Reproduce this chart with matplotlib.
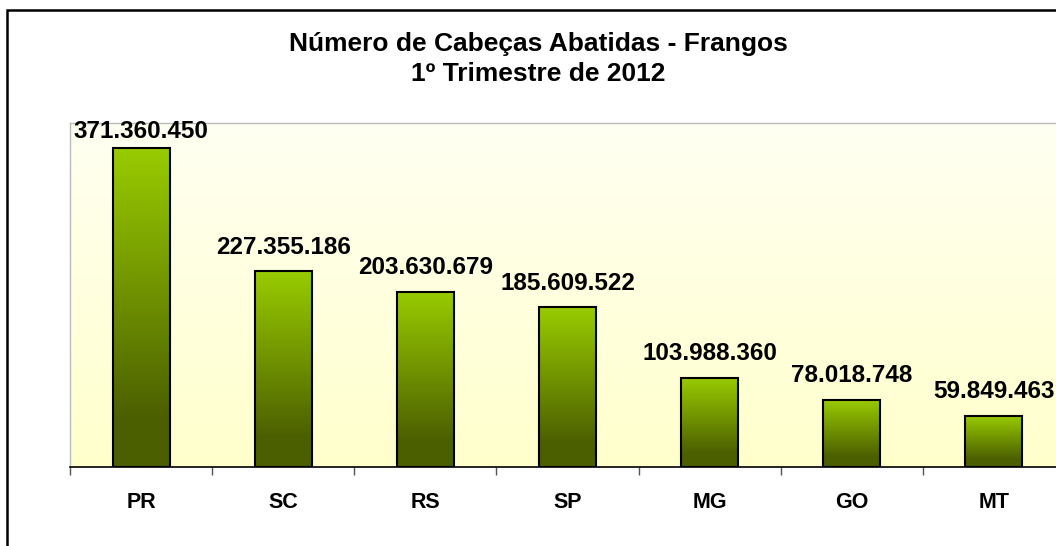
import numpy as np
import matplotlib
matplotlib.use("Agg")
import matplotlib.pyplot as plt
from matplotlib.colors import LinearSegmentedColormap
from matplotlib.patches import Rectangle

categories = ["PR", "SC", "RS", "SP", "MG", "GO", "MT"]
values = [371360450, 227355186, 203630679, 185609522, 103988360, 78018748, 59849463]
value_labels = ["371.360.450", "227.355.186", "203.630.679", "185.609.522",
                "103.988.360", "78.018.748", "59.849.463"]
title = "Número de Cabeças Abatidas - Frangos\n1º Trimestre de 2012"

plt.rcParams['font.family'] = ['Liberation Sans', 'DejaVu Sans']

W, H = 1056, 546
fig = plt.figure(figsize=(W / 100, H / 100), dpi=100)
fig.patch.set_facecolor("white")

# outer frame
fig.patches.append(Rectangle((7 / W, -0.2), 1.5, (H - 10) / H + 0.2,
                             transform=fig.transFigure, fill=False,
                             edgecolor="black", lw=1.8))

ax = fig.add_axes([70 / W, (H - 467) / H, 995 / W, 344 / H])

# background gradient
bg = LinearSegmentedColormap.from_list("bg", ["#FFFFCC", "#FFFFF2"])
ax.imshow(np.linspace(0, 1, 256).reshape(-1, 1), cmap=bg, origin="lower",
          aspect="auto", extent=[0, 1, 0, 1], transform=ax.transAxes, zorder=0)

x = np.arange(len(categories))
bars = ax.bar(x, values, width=0.4, facecolor="none", edgecolor="black",
              linewidth=1.5, zorder=3)

barcmap = LinearSegmentedColormap.from_list(
    "bar", [(0.0, "#4C5F00"), (0.15, "#4C5F00"), (1.0, "#99CC00")])
grad = np.linspace(0, 1, 256).reshape(-1, 1)
for b in bars:
    x0, y0 = b.get_x(), b.get_y()
    w, h = b.get_width(), b.get_height()
    im = ax.imshow(grad, cmap=barcmap, origin="lower", aspect="auto",
                   extent=[x0, x0 + w, y0, y0 + h], zorder=2)
    im.set_clip_path(b)

ax.set_xlim(-0.5, len(categories) - 0.5)
ax.set_ylim(0, 400_000_000)

# value labels, kept inside the plot area (as the spreadsheet does)
fig.canvas.draw()
renderer = fig.canvas.get_renderer()
ax_top_px = ax.get_window_extent(renderer).y1
for xi, v, lab in zip(x, values, value_labels):
    t = ax.annotate(lab, (xi, v), xytext=(0, 9), textcoords="offset points",
                    ha="center", va="bottom", fontsize=17.5, fontweight="bold",
                    zorder=4, annotation_clip=False)
    bb = t.get_window_extent(renderer)
    excess = bb.y1 - (ax_top_px + 3)
    if excess > 0:
        t.set_position((0, 9 - excess * 72 / fig.dpi))

# ticks at category boundaries, labels at centers
ax.set_xticks(np.arange(-0.5, len(categories), 1.0))
ax.set_xticklabels([])
ax.tick_params(axis="x", which="major", length=6, width=1, color="#555555")
ax.set_xticks(x, minor=True)
ax.set_xticklabels(categories, minor=True, fontsize=15.5, fontweight="bold")
ax.tick_params(axis="x", which="minor", length=0, pad=18)
ax.set_yticks([])

for s in ["left", "top", "right"]:
    ax.spines[s].set_color("#BBBBBB")
    ax.spines[s].set_linewidth(1)
ax.spines["bottom"].set_color("black")
ax.spines["bottom"].set_linewidth(1.2)

fig.text(538 / W, 1 - 59 / H, title, ha="center", va="center",
         fontsize=19, fontweight="bold", linespacing=1.33)

fig.savefig("out.png", dpi=100)
